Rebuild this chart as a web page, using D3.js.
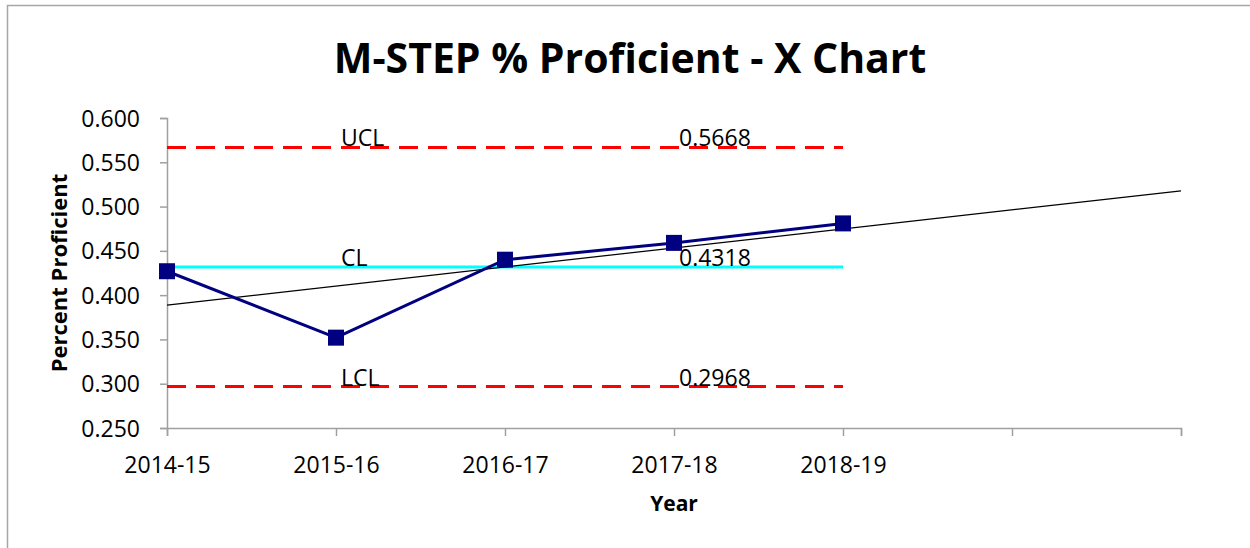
<!DOCTYPE html>
<html>
<head>
<meta charset="utf-8">
<script src="https://cdn.jsdelivr.net/npm/d3@7"></script>
<style>
    body { margin: 0; background: #fff; }
    text { font-family: "Open Sans", "Liberation Sans", sans-serif; fill: #000; }
</style>
</head>
<body>
<div id="chart"></div>
<script>
// categories on the x axis (last two are the empty slots the trendline runs into)
const years = ["2014-15", "2015-16", "2016-17", "2017-18", "2018-19", "", ""];
// % proficient per year
const proficient = [0.427, 0.352, 0.440, 0.459, 0.481];
// control limits
const limits = [
    {name: "UCL", value: 0.5668},
    {name: "CL", value: 0.4318},
    {name: "LCL", value: 0.2968}
];
const yTicks = [0.250, 0.300, 0.350, 0.400, 0.450, 0.500, 0.550, 0.600];

var width = 1250, height = 548;
var margin = {top: 118, right: 69, bottom: 120, left: 167};

const svg = d3.select("#chart")
    .append("svg")
    .attr("width", width)
    .attr("height", height);

// outer chart border
svg.append("rect")
    .attr("x", 7.5).attr("y", 5.5)
    .attr("width", width + 10).attr("height", height + 10)
    .attr("fill", "none").attr("stroke", "#a6a6a6").attr("stroke-width", 1.5);

const x = d3.scaleLinear()
    .domain([0, years.length - 1])
    .range([margin.left, width - margin.right]);

const y = d3.scaleLinear()
    .domain([0.25, 0.6])
    .range([height - margin.bottom, margin.top]);

// y axis
const yAxis = svg.append("g")
    .attr("transform", `translate(${margin.left},0)`)
    .call(d3.axisLeft(y).tickValues(yTicks).tickFormat(d3.format(".3f")).tickSize(7).tickPadding(20));
yAxis.selectAll("text").style("font-size", "23px").attr("dy", "0.35em");

// x axis
const xAxis = svg.append("g")
    .attr("transform", `translate(0,${y(0.25)})`)
    .call(d3.axisBottom(x).tickValues(d3.range(years.length)).tickFormat(i => years[i]).tickSize(8).tickPadding(21));
xAxis.selectAll("text").style("font-size", "23px");

svg.selectAll(".domain, .tick line").attr("stroke", "#a0a0a0").attr("stroke-width", 1.5);

// control limit lines
const lastX = x(proficient.length - 1);
svg.selectAll(".limit")
    .data(limits)
    .enter().append("line")
    .attr("x1", x(0)).attr("x2", lastX)
    .attr("y1", d => y(d.value)).attr("y2", d => y(d.value))
    .attr("stroke", d => d.name === "CL" ? "#00ffff" : "#ff0000")
    .attr("stroke-width", 3)
    .attr("stroke-dasharray", d => d.name === "CL" ? null : "19,10");

// limit labels
svg.selectAll(".limitName")
    .data(limits)
    .enter().append("text")
    .attr("x", x(1) + 5)
    .attr("y", d => y(d.value) - 1)
    .style("font-size", "23px")
    .text(d => d.name);
svg.selectAll(".limitValue")
    .data(limits)
    .enter().append("text")
    .attr("x", x(3) + 5)
    .attr("y", d => y(d.value) - 1)
    .style("font-size", "23px")
    .text(d => d.value.toFixed(4));

// linear trendline fitted to the data, extended to the end of the axis
var xm = d3.mean(proficient, (d, i) => i);
var ym = d3.mean(proficient);
var slope = d3.sum(proficient, (d, i) => (i - xm) * (d - ym)) / d3.sum(proficient, (d, i) => (i - xm) * (i - xm));
var icpt = ym - slope * xm;
svg.append("line")
    .attr("x1", x(0)).attr("y1", y(icpt))
    .attr("x2", x(years.length - 1)).attr("y2", y(icpt + slope * (years.length - 1)))
    .attr("stroke", "#000").attr("stroke-width", 1.25);

// data line + square markers
svg.append("path")
    .datum(proficient)
    .attr("fill", "none")
    .attr("stroke", "#000080")
    .attr("stroke-width", 3)
    .attr("d", d3.line().x((d, i) => x(i)).y(d => y(d)));

svg.selectAll(".marker")
    .data(proficient)
    .enter().append("rect")
    .attr("x", (d, i) => x(i) - 8)
    .attr("y", d => y(d) - 8)
    .attr("width", 16).attr("height", 16)
    .attr("fill", "#000080");

// titles
svg.append("text")
    .attr("x", 630).attr("y", 73)
    .attr("text-anchor", "middle")
    .style("font-size", "41px").style("font-weight", "bold")
    .text("M-STEP % Proficient - X Chart");

svg.append("text")
    .attr("transform", `translate(67,${(y(0.25) + y(0.6)) / 2}) rotate(-90)`)
    .attr("text-anchor", "middle")
    .style("font-size", "22px").style("font-weight", "bold")
    .text("Percent Proficient");

svg.append("text")
    .attr("x", (x(0) + x(years.length - 1)) / 2).attr("y", 511)
    .attr("text-anchor", "middle")
    .style("font-size", "21px").style("font-weight", "bold")
    .text("Year");
</script>
</body>
</html>
